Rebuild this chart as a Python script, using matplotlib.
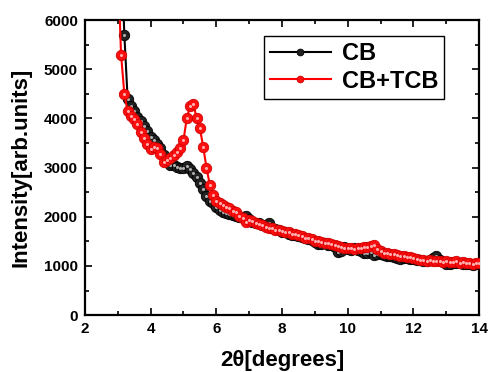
import numpy as np
import matplotlib
matplotlib.use("Agg")
import matplotlib.pyplot as plt

plt.rcParams['font.family'] = ['Liberation Sans', 'DejaVu Sans']

# 2theta grid (0.1 deg step)
two_theta = np.round(np.arange(3.0, 14.01, 0.1), 1)

cb = [9000, 7500, 5700, 4400, 4250, 4150, 4020, 3950, 3850, 3750,
      3620, 3560, 3480, 3400, 3250, 3150, 3050, 3060, 3020, 3000,
      3000, 3030, 2980, 2900, 2800, 2680, 2560, 2420, 2320, 2280,
      2200, 2140, 2100, 2080, 2060, 2040, 2020, 2000, 1990, 2010,
      1950, 1900, 1880, 1870, 1840, 1830, 1880, 1780, 1760, 1740,
      1700, 1680, 1650, 1630, 1620, 1600, 1580, 1570, 1540, 1520,
      1480, 1450, 1440, 1460, 1430, 1420, 1380, 1280, 1300, 1380,
      1350, 1330, 1360, 1320, 1300, 1270, 1260, 1290, 1230, 1240,
      1250, 1230, 1210, 1200, 1190, 1170, 1150, 1170, 1160, 1150,
      1140, 1130, 1120, 1110, 1100, 1120, 1160, 1200, 1120, 1080,
      1040, 1030, 1060, 1050, 1060, 1040, 1030, 1040, 1020, 1040,
      1040]

cb_tcb = [7200, 5300, 4500, 4150, 4050, 3980, 3880, 3720, 3600, 3470,
          3380, 3420, 3390, 3280, 3120, 3160, 3200, 3260, 3320, 3400,
          3560, 4000, 4250, 4300, 4000, 3800, 3420, 3000, 2650, 2450,
          2330, 2270, 2240, 2200, 2170, 2120, 2090, 2020, 1980, 1900,
          1940, 1920, 1880, 1860, 1830, 1800, 1780, 1770, 1740, 1730,
          1720, 1700, 1680, 1640, 1650, 1620, 1600, 1570, 1560, 1540,
          1500, 1510, 1480, 1470, 1460, 1440, 1430, 1410, 1390, 1370,
          1360, 1370, 1350, 1360, 1370, 1380, 1390, 1400, 1420, 1340,
          1300, 1270, 1260, 1250, 1240, 1230, 1210, 1200, 1190, 1180,
          1160, 1150, 1130, 1120, 1110, 1120, 1100, 1090, 1100, 1080,
          1090, 1080, 1070, 1090, 1060, 1070, 1050, 1060, 1040, 1060,
          1050]

fig = plt.figure(figsize=(4.88, 3.72), dpi=100)
ax = fig.add_axes([0.174, 0.153, 0.808, 0.793])

ax.plot(two_theta, cb, '-o', color='black', lw=1.5, ms=7.5,
        mfc='#222222', mec='black', mew=0.6, label='CB', zorder=2)
ax.plot(two_theta, cb, 'o', color='#b0b0b0', ms=2.2, mew=0, zorder=2.1)
ax.plot(two_theta, cb_tcb, '-o', color='red', lw=1.5, ms=7.5,
        mfc='#ff1010', mec='#d00000', mew=0.6, label='CB+TCB', zorder=3)
ax.plot(two_theta, cb_tcb, 'o', color='#ffb0b0', ms=2.2, mew=0, zorder=3.1)

ax.set_xlim(2, 14)
ax.set_ylim(0, 6000)
ax.set_xticks([2, 4, 6, 8, 10, 12, 14])
ax.set_xticks(np.arange(3, 14, 2), minor=True)
ax.set_yticks(np.arange(0, 6001, 1000))
ax.set_yticks(np.arange(500, 6000, 1000), minor=True)
ax.tick_params(which='both', direction='in', top=True, right=True, width=1.2)
ax.tick_params(which='major', length=5, labelsize=11, pad=5)
ax.tick_params(which='minor', length=3)
for lab in ax.get_xticklabels() + ax.get_yticklabels():
    lab.set_fontweight('bold')
for sp in ax.spines.values():
    sp.set_linewidth(1.6)

ax.set_xlabel('2\u03b8[degrees]', fontsize=16, fontweight='bold', labelpad=10)
ax.set_ylabel('Intensity[arb.units]', fontsize=16, fontweight='bold', labelpad=9)

leg = ax.legend(loc='upper right', bbox_to_anchor=(0.911, 0.946),
                borderaxespad=0,
                prop={'size': 17, 'weight': 'bold'}, fancybox=False,
                edgecolor='black', framealpha=1, handlelength=2.6,
                markerscale=0.65, borderpad=0.25, labelspacing=0.2,
                handletextpad=0.45)
leg.get_frame().set_linewidth(1.0)

fig.savefig('out.png', dpi=100)
